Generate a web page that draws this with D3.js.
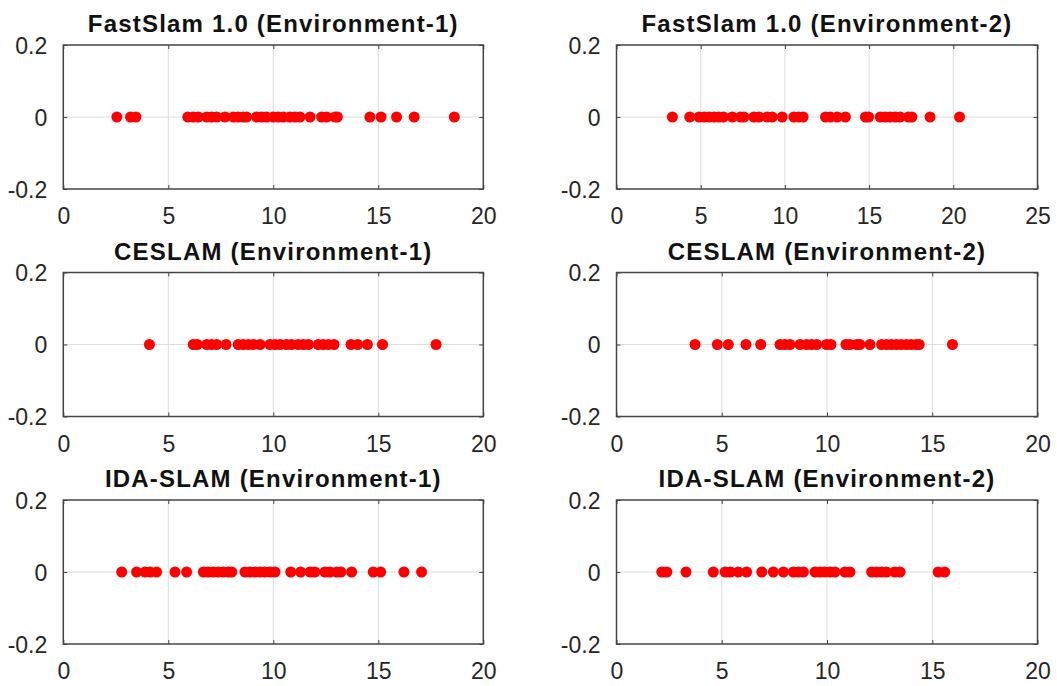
<!DOCTYPE html>
<html>
<head>
<meta charset="utf-8">
<script src="https://cdn.jsdelivr.net/npm/d3@7"></script>
<style>
  html, body { margin: 0; padding: 0; background: #ffffff; }
  svg { display: block; }
  text { font-family: "Liberation Sans", Arial, sans-serif; }
</style>
</head>
<body>
<svg id="chart" width="1057" height="686"></svg>
<script>
// ---- data ----
const titles = [
  "FastSlam 1.0 (Environment-1)", "FastSlam 1.0 (Environment-2)",
  "CESLAM (Environment-1)", "CESLAM (Environment-2)",
  "IDA-SLAM (Environment-1)", "IDA-SLAM (Environment-2)"
];
const xMaxes = [20, 25, 20, 20, 20, 20];
const xTicks20 = [0, 5, 10, 15, 20];
const xTicks25 = [0, 5, 10, 15, 20, 25];
const yTicks = [-0.2, 0, 0.2];
const yTickLabels = ["-0.2", "0", "0.2"];

const fastslamEnv1 = [2.55, 3.2, 3.46, 5.93, 6.19, 6.43, 6.83, 7.06, 7.3, 7.7, 8.1, 8.33, 8.57, 8.73,
  9.2, 9.44, 9.68, 10.0, 10.24, 10.48, 10.79, 11.03, 11.27, 11.75, 12.3, 12.54, 12.94, 13.05,
  14.6, 15.13, 15.87, 16.71, 18.62];
const fastslamEnv2 = [3.32, 4.35, 4.9, 5.2, 5.5, 5.8, 6.09, 6.35, 6.88, 7.37, 7.57, 8.16, 8.46, 8.95,
  9.25, 9.84, 10.53, 10.82, 11.08, 12.41, 12.7, 13.1, 13.59, 14.78, 14.97, 15.66, 15.96, 16.25,
  16.55, 16.85, 17.34, 17.54, 18.62, 20.37];
const ceslamEnv1 = [4.1, 6.19, 6.38, 6.83, 7.06, 7.3, 7.75, 8.33, 8.57, 8.81, 9.05, 9.37, 9.84, 10.08,
  10.32, 10.63, 10.87, 11.19, 11.43, 11.67, 12.14, 12.38, 12.62, 12.89, 13.7, 14.02, 14.48, 15.2, 17.75];
const ceslamEnv2 = [3.73, 4.79, 5.31, 6.15, 6.85, 7.77, 8.0, 8.24, 8.72, 9.04, 9.27, 9.51, 9.98, 10.19,
  10.9, 11.09, 11.41, 11.56, 12.04, 12.59, 12.83, 13.06, 13.3, 13.53, 13.77, 14.0, 14.24, 14.38, 15.96];
const idaslamEnv1 = [2.78, 3.49, 3.89, 4.13, 4.44, 5.32, 5.87, 6.67, 6.9, 7.14, 7.38, 7.62, 7.86, 8.02,
  8.65, 8.89, 9.13, 9.37, 9.6, 9.84, 10.08, 10.83, 11.3, 11.75, 11.98, 12.46, 12.7, 13.02, 13.22,
  13.73, 14.76, 15.11, 16.22, 17.06];
const idaslamEnv2 = [2.15, 2.39, 3.3, 4.6, 5.16, 5.42, 5.79, 6.18, 6.9, 7.45, 7.93, 8.4, 8.64, 8.88,
  9.43, 9.67, 9.9, 10.14, 10.38, 10.85, 11.09, 12.12, 12.36, 12.59, 12.83, 13.22, 13.47, 15.28, 15.59];

const series = [fastslamEnv1, fastslamEnv2, ceslamEnv1, ceslamEnv2, idaslamEnv1, idaslamEnv2];

// ---- layout ----
const colX = [[63.3, 483.3], [616.5, 1037.5]];
const rowTop = [45, 272.5, 500];
const plotH = 144;
const axisColor = "#444444";
const textColor = "#262626";

const svg = d3.select("#chart");
svg.append("rect").attr("width", 1057).attr("height", 686).attr("fill", "#fff");

series.forEach((vals, i) => {
  const col = i % 2, row = Math.floor(i / 2);
  const [x0, x1] = colX[col];
  const y0 = rowTop[row], y1 = y0 + plotH;
  const x = d3.scaleLinear().domain([0, xMaxes[i]]).range([x0, x1]);
  const y = d3.scaleLinear().domain([-0.2, 0.2]).range([y1, y0]);
  const xt = xMaxes[i] === 25 ? xTicks25 : xTicks20;
  const g = svg.append("g");

  // grid
  g.append("g").selectAll("line").data(xt.filter(t => t > 0 && t < xMaxes[i])).join("line")
    .attr("x1", d => x(d)).attr("x2", d => x(d)).attr("y1", y0).attr("y2", y1)
    .attr("stroke", "#dedede").attr("stroke-width", 1);
  g.append("line").attr("x1", x0).attr("x2", x1).attr("y1", y(0)).attr("y2", y(0))
    .attr("stroke", "#dedede").attr("stroke-width", 1);

  // x axis
  const xAxis = d3.axisBottom(x).tickValues(xt).tickSize(-4).tickPadding(19).tickFormat(d3.format("d"));
  const xa = g.append("g").attr("transform", `translate(0,${y1})`).call(xAxis);
  const xAxisTop = d3.axisTop(x).tickValues(xt).tickSize(-4).tickFormat("");
  const xat = g.append("g").attr("transform", `translate(0,${y0})`).call(xAxisTop);
  // y axis
  const yAxis = d3.axisLeft(y).tickValues(yTicks).tickSize(-4).tickPadding(16)
    .tickFormat((d, k) => yTickLabels[k]);
  const ya = g.append("g").attr("transform", `translate(${x0},0)`).call(yAxis);
  const yAxisR = d3.axisRight(y).tickValues(yTicks).tickSize(-4).tickFormat("");
  const yar = g.append("g").attr("transform", `translate(${x1},0)`).call(yAxisR);

  [xa, xat, ya, yar].forEach(a => {
    a.select(".domain").remove();
    a.selectAll(".tick line").attr("stroke", axisColor).attr("stroke-width", 1);
    a.selectAll("text").attr("fill", textColor).style("font-size", "23px")
      .style("font-family", "'Liberation Sans', Arial, sans-serif");
  });
  ya.selectAll("text").attr("dy", "0.36em");

  // box
  g.append("rect").attr("x", x0).attr("y", y0).attr("width", x1 - x0).attr("height", plotH)
    .attr("fill", "none").attr("stroke", axisColor).attr("stroke-width", 1.5);

  // dots
  g.append("g").selectAll("circle").data(vals).join("circle")
    .attr("cx", d => x(d)).attr("cy", y(0)).attr("r", 5.5).attr("fill", "#ff0000");

  // title
  g.append("text").attr("x", (x0 + x1) / 2).attr("y", y0 - 13)
    .attr("text-anchor", "middle").attr("fill", "#111")
    .style("font-size", "24px").style("font-weight", "bold")
    .style("letter-spacing", "1.2px")
    .text(titles[i]);
});
</script>
</body>
</html>
